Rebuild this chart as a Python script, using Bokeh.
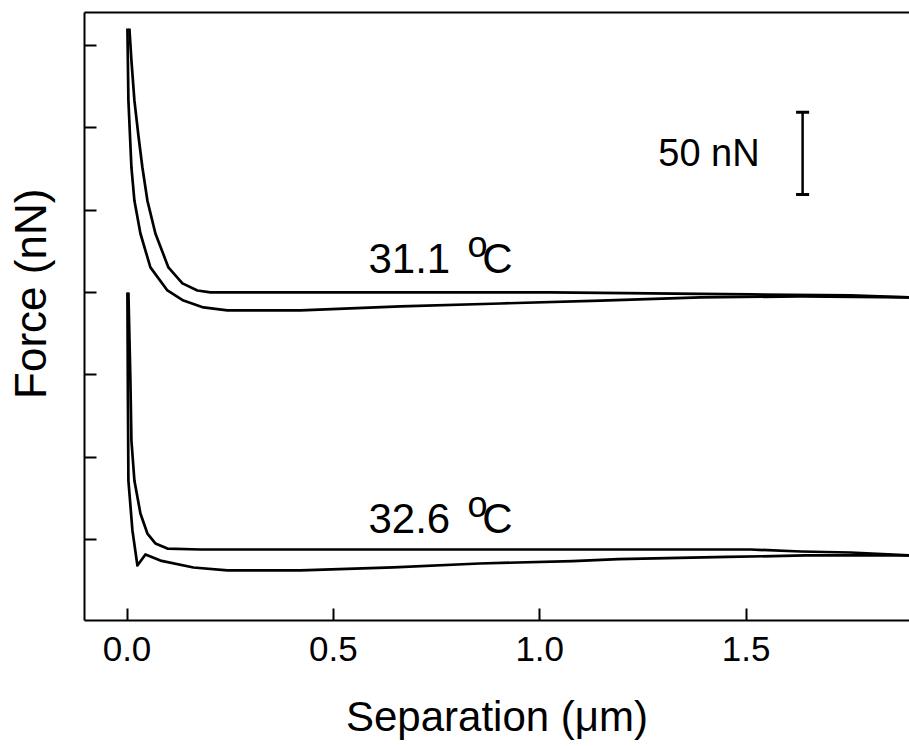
from bokeh.plotting import figure
from bokeh.models import FixedTicker, PrintfTickFormatter, Range1d, LinearAxis
from bokeh.core.properties import value
from bokeh.embed import file_html
from bokeh.resources import INLINE

# ---- data (separation in um, force in nN, curves offset vertically) ----
# 31.1 C : approach (upper line)
t31_app_x = [0.0058, 0.0107, 0.0179, 0.0276, 0.0373, 0.0494, 0.0688, 0.1003, 0.1343, 0.1706,
             0.2021, 0.2991, 0.6626, 1.0262, 1.2686, 1.5109, 1.7533, 1.8963]
t31_app_y = [310.3, 290.9, 266.6, 245.3, 225.9, 205.8, 185.8, 165.2, 155.5, 151.2,
             150.0, 150.0, 150.0, 150.0, 149.4, 148.8, 148.2, 147.0]
# 31.1 C : retract (lower line)
t31_ret_x = [0.0010, 0.0034, 0.0107, 0.0179, 0.0325, 0.0567, 0.0979, 0.1367, 0.1852, 0.2433,
             0.4202, 0.6626, 0.9050, 1.1474, 1.3898, 1.6322, 1.8963]
t31_ret_y = [310.3, 266.6, 225.9, 205.8, 185.8, 165.2, 151.2, 145.1, 140.9, 139.1,
             139.1, 141.5, 143.3, 145.1, 147.0, 147.6, 147.0]
# 32.6 C : approach (upper line)
t32_app_x = [0.0034, 0.0082, 0.0107, 0.0179, 0.0325, 0.0494, 0.0688, 0.0979, 0.1779,
             0.6626, 1.1474, 1.5109, 1.6322, 1.7533, 1.8963]
t32_app_y = [150.0, 96.6, 60.1, 35.8, 15.8, 3.6, -2.4, -5.5, -6.1,
             -6.1, -6.1, -6.1, -7.3, -7.9, -9.7]
# 32.6 C : retract (lower line)
t32_ret_x = [0.0010, 0.0022, 0.0034, 0.0131, 0.0252, 0.0446, 0.0809, 0.1609, 0.2433, 0.4202,
             0.6456, 0.8541, 1.0795, 1.1910, 1.4552, 1.6442, 1.8963]
t32_ret_y = [150.0, 84.4, 35.8, 5.5, -15.8, -9.1, -12.8, -17.0, -18.8, -18.8,
             -17.0, -14.6, -13.1, -11.9, -10.6, -9.7, -9.7]

x_ticks = [0.0, 0.5, 1.0, 1.5]
y_ticks = [0, 50, 100, 150, 200, 250, 300]

# temperature labels: number, superscript o, C
lab_num = ["31.1", "32.6"]
lab_num_x = [0.585, 0.585]
lab_num_y = [170.6, 12.7]
lab_o_x = [0.825, 0.825]
lab_o_y = [179.2, 21.3]
lab_c_x = [0.861, 0.861]

# scale bar
bar_x = 1.637
bar_y0, bar_y1 = 209.5, 259.5
bar_cap = 0.0158
bar_text = "50 nN"
bar_text_x, bar_text_y = 1.533, 234.4

FONT = "Liberation Sans"

p = figure(width=909, height=746, output_backend="svg", toolbar_location=None,
           x_range=Range1d(-0.103, 1.896), y_range=Range1d(-49.2, 320.0),
           min_border_left=84, min_border_right=0, min_border_top=12, min_border_bottom=126)
p.grid.visible = False
p.outline_line_color = None
p.background_fill_color = "white"
p.border_fill_color = "white"

for xs, ys in [(t31_app_x, t31_app_y), (t31_ret_x, t31_ret_y),
               (t32_app_x, t32_app_y), (t32_ret_x, t32_ret_y)]:
    p.line(xs, ys, line_color="black", line_width=2.7, line_join="round")

# axes
p.xaxis.ticker = FixedTicker(ticks=x_ticks)
p.xaxis.formatter = PrintfTickFormatter(format="%.1f")
# y axis: unlabeled ticks (drawn as minor ticks so no tick labels exist)
p.yaxis.ticker = FixedTicker(ticks=[], minor_ticks=y_ticks)
for ax in (p.xaxis[0], p.yaxis[0]):
    ax.axis_line_width = 2
    ax.axis_line_color = "black"
    ax.major_tick_line_width = 2
    ax.major_tick_line_color = "black"
    ax.major_tick_in = 12
    ax.major_tick_out = 0
    ax.axis_label_text_font = FONT
    ax.axis_label_text_font_style = "normal"
    ax.axis_label_text_color = "black"
    ax.major_label_text_font = FONT
    ax.major_label_text_color = "black"
p.xaxis.minor_tick_line_color = None
p.yaxis.minor_tick_line_color = "black"
p.yaxis.minor_tick_line_width = 2
p.yaxis.minor_tick_in = 12
p.yaxis.minor_tick_out = 0

p.xaxis.axis_label = "Separation (μm)"
p.xaxis.axis_label_text_font_size = "42px"
p.xaxis.major_label_text_font_size = "35px"
p.xaxis.major_label_standoff = 16
p.xaxis.axis_label_standoff = 29

# leading no-break spaces move the centred title slightly upward, as in the original
p.yaxis.axis_label = "\u00a0\u00a0\u00a0\u2009Force (nN)"
p.yaxis.axis_label_text_font_size = "44px"
p.yaxis.major_label_standoff = 0
p.yaxis.axis_label_standoff = 30

# top frame line (bare axis, no ticks)
top_axis = LinearAxis(ticker=FixedTicker(ticks=[], minor_ticks=[]),
                      axis_line_width=2, axis_line_color="black",
                      major_tick_line_color=None, minor_tick_line_color=None,
                      major_tick_in=0, major_tick_out=0, minor_tick_in=0, minor_tick_out=0,
                      major_label_standoff=0)
p.add_layout(top_axis, "above")

# temperature labels
p.text(lab_num_x, lab_num_y, text=lab_num, text_font=value(FONT), text_font_size="42px",
       text_baseline="alphabetic", text_align="left", text_color="black")
p.text(lab_o_x, lab_o_y, text=["o", "o"], text_font=value(FONT), text_font_size="36px",
       text_baseline="alphabetic", text_align="left", text_color="black")
p.text(lab_c_x, lab_num_y, text=["C", "C"], text_font=value(FONT), text_font_size="42px",
       text_baseline="alphabetic", text_align="left", text_color="black")

# scale bar
p.segment(x0=[bar_x], y0=[bar_y0], x1=[bar_x], y1=[bar_y1], line_color="black", line_width=2.5)
p.segment(x0=[bar_x - bar_cap, bar_x - bar_cap], y0=[bar_y0, bar_y1],
          x1=[bar_x + bar_cap, bar_x + bar_cap], y1=[bar_y0, bar_y1],
          line_color="black", line_width=3)
p.text([bar_text_x], [bar_text_y], text=[bar_text], text_font=value(FONT), text_font_size="38px",
       text_baseline="alphabetic", text_align="right", text_color="black")

open("out.html", "w").write(file_html(p, INLINE))
